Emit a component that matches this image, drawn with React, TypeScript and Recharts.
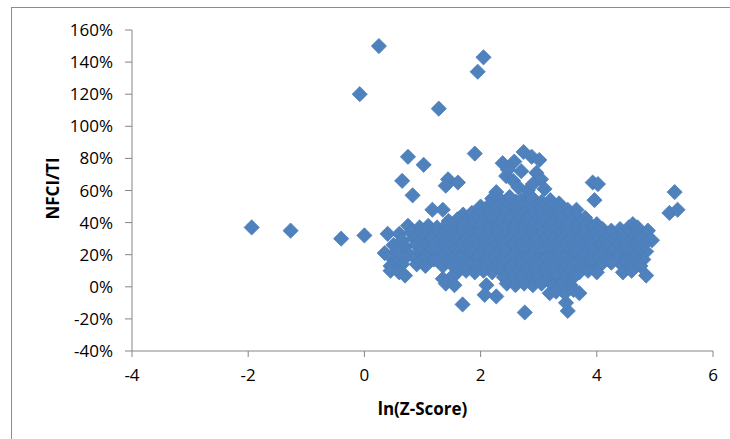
import { ScatterChart, Scatter, XAxis, YAxis, Label } from "recharts";

// ln(Z-Score) vs NFCI/TI (in %), points stored as [x, y]
const farPoints = [
  [-1.94, 37], [-1.27, 35], [-0.4, 30], [0.0, 32], [0.25, 150], [-0.08, 120],
  [2.05, 143], [1.95, 134], [1.28, 111],
];

const upperLeft = [
  [0.75, 81], [1.02, 76], [1.9, 83], [0.65, 66], [0.83, 57], [1.44, 67],
  [1.61, 65], [1.4, 63], [1.17, 48], [1.35, 48], [0.4, 33],
];

const upperArm = [
  [2.38, 77], [2.58, 78], [2.74, 84], [2.88, 81], [3.01, 79], [2.96, 71],
  [3.04, 67], [2.44, 69], [2.56, 66], [2.81, 60], [2.27, 59], [2.61, 53],
  [2.84, 57], [2.65, 62], [2.47, 73], [2.7, 72], [2.9, 64], [3.1, 61],
];

const rightPoints = [
  [3.93, 65], [4.02, 64], [3.96, 54], [5.34, 59], [5.25, 46], [5.39, 48],
  [4.85, 7], [4.62, 39], [4.79, 31], [4.88, 35],
];

const lowPoints = [
  [1.69, -11], [2.1, 1], [2.27, -6], [2.07, -5], [2.76, -16], [3.19, -4],
  [3.5, -15], [3.47, -10], [3.7, -4],
];

const coreTop = [
  [2.2, 55], [2.35, 54], [2.5, 56], [2.7, 54], [2.9, 55], [3.05, 53], [3.2, 54], [3.35, 52],
  [2.0, 50], [2.15, 51], [2.3, 50], [2.45, 49], [2.6, 50], [2.75, 51], [2.9, 49], [3.05, 50],
  [3.2, 49], [3.35, 50], [3.5, 48], [3.65, 48],
  [1.7, 45], [1.85, 46], [2.0, 45], [2.15, 46], [2.3, 45], [2.45, 46], [2.6, 45], [2.75, 46],
  [2.9, 45], [3.05, 46], [3.2, 45], [3.35, 46], [3.5, 45], [3.65, 44], [3.8, 43],
  [1.45, 41], [1.6, 42], [1.75, 41], [1.9, 42], [2.05, 41], [2.2, 42], [2.35, 41], [2.5, 42],
  [2.65, 41], [2.8, 42], [2.95, 41], [3.1, 42], [3.25, 41], [3.4, 42], [3.55, 41], [3.7, 40],
  [3.85, 40], [4.0, 39],
];

const coreMid = [
  [0.75, 38], [0.95, 37], [1.1, 38], [1.25, 37], [1.4, 38], [1.55, 37], [1.7, 38], [1.85, 37],
  [2.0, 38], [2.15, 37], [2.3, 38], [2.45, 37], [2.6, 38], [2.75, 37], [2.9, 38], [3.05, 37],
  [3.2, 38], [3.35, 37], [3.5, 38], [3.65, 37], [3.8, 38], [3.95, 37], [4.1, 36], [4.25, 35],
  [4.4, 36], [4.55, 37], [4.7, 37],
  [0.6, 33], [0.8, 34], [0.95, 33], [1.1, 34], [1.25, 33], [1.4, 34], [1.55, 33], [1.7, 34],
  [1.85, 33], [2.0, 34], [2.15, 33], [2.3, 34], [2.45, 33], [2.6, 34], [2.75, 33], [2.9, 34],
  [3.05, 33], [3.2, 34], [3.35, 33], [3.5, 34], [3.65, 33], [3.8, 34], [3.95, 33], [4.1, 32],
  [4.25, 33], [4.4, 32], [4.55, 33], [4.7, 34], [4.85, 32],
  [0.65, 29], [0.85, 30], [1.0, 29], [1.15, 30], [1.3, 29], [1.45, 30], [1.6, 29], [1.75, 30],
  [1.9, 29], [2.05, 30], [2.2, 29], [2.35, 30], [2.5, 29], [2.65, 30], [2.8, 29], [2.95, 30],
  [3.1, 29], [3.25, 30], [3.4, 29], [3.55, 30], [3.7, 29], [3.85, 30], [4.0, 29], [4.15, 30],
  [4.3, 29], [4.45, 30], [4.6, 29], [4.75, 30], [4.95, 29],
  [0.5, 26], [0.7, 25], [0.9, 26], [1.05, 25], [1.2, 26], [1.35, 25], [1.5, 26], [1.65, 25],
  [1.8, 26], [1.95, 25], [2.1, 26], [2.25, 25], [2.4, 26], [2.55, 25], [2.7, 26], [2.85, 25],
  [3.0, 26], [3.15, 25], [3.3, 26], [3.45, 25], [3.6, 26], [3.75, 25], [3.9, 26], [4.05, 25],
  [4.2, 26], [4.35, 25], [4.5, 26], [4.65, 25], [4.8, 26],
];

const coreLow = [
  [0.35, 21], [0.55, 22], [0.75, 21], [0.95, 22], [1.1, 21], [1.25, 22], [1.4, 21], [1.55, 22],
  [1.7, 21], [1.85, 22], [2.0, 21], [2.15, 22], [2.3, 21], [2.45, 22], [2.6, 21], [2.75, 22],
  [2.9, 21], [3.05, 22], [3.2, 21], [3.35, 22], [3.5, 21], [3.65, 22], [3.8, 21], [3.95, 22],
  [4.1, 21], [4.25, 22], [4.4, 21], [4.55, 22], [4.7, 21], [4.85, 22],
  [0.5, 17], [0.7, 18], [0.9, 17], [1.05, 18], [1.2, 17], [1.35, 18], [1.5, 17], [1.65, 18],
  [1.8, 17], [1.95, 18], [2.1, 17], [2.25, 18], [2.4, 17], [2.55, 18], [2.7, 17], [2.85, 18],
  [3.0, 17], [3.15, 18], [3.3, 17], [3.45, 18], [3.6, 17], [3.75, 18], [3.9, 17], [4.05, 18],
  [4.2, 17], [4.35, 18], [4.5, 17], [4.65, 18], [4.8, 17],
  [0.45, 13], [0.65, 14], [0.9, 14], [1.05, 13], [1.35, 13], [1.5, 14], [1.65, 13], [1.8, 14],
  [1.95, 13], [2.1, 14], [2.25, 13], [2.4, 14], [2.55, 13], [2.7, 14], [2.85, 13], [3.0, 14],
  [3.15, 13], [3.3, 14], [3.45, 13], [3.6, 14], [3.75, 13], [3.9, 14], [4.05, 13], [4.25, 15],
  [4.45, 13], [4.6, 14], [4.75, 13],
  [0.45, 10], [0.6, 9], [1.6, 9], [1.75, 10], [1.9, 9], [2.05, 10], [2.2, 9], [2.35, 10],
  [2.5, 9], [2.65, 10], [2.8, 9], [2.95, 10], [3.1, 9], [3.25, 10], [3.4, 9], [3.55, 10],
  [3.7, 9], [3.85, 10], [4.0, 9], [4.45, 9], [4.6, 10],
  [0.7, 7], [1.35, 5], [1.5, 6], [2.4, 6], [2.55, 5], [2.7, 6], [2.85, 5], [3.0, 6],
  [3.15, 5], [3.3, 6], [3.45, 5], [3.6, 6],
  [1.4, 2], [1.55, 1], [2.45, 2], [2.6, 1], [2.75, 2], [2.9, 1], [3.05, 2], [3.25, 1],
  [3.4, 2], [3.55, 1],
  [3.3, -3], [3.45, -4], [3.6, -2],
];

const xTicks = [-4, -2, 0, 2, 4, 6];
const yTicks = [-40, -20, 0, 20, 40, 60, 80, 100, 120, 140, 160];

const points = [
  ...farPoints, ...upperLeft, ...upperArm, ...rightPoints, ...lowPoints,
  ...coreTop, ...coreMid, ...coreLow,
].map(([x, y]) => ({ x, y }));

const FONT = '"Open Sans", "Liberation Sans", sans-serif';
const AXIS = "#868686";

const Diamond = (props: any) => {
  const { cx, cy } = props;
  const r = 7.6;
  return (
    <path
      d={`M${cx},${cy - r}L${cx + r},${cy}L${cx},${cy + r}L${cx - r},${cy}Z`}
      fill="#4F81BD"
      stroke="#4A7EBB"
      strokeWidth={0.8}
    />
  );
};

export default function App() {
  return (
    <div style={{ position: "absolute", left: 0, top: 0, width: 730, height: 439, overflow: "hidden", background: "#fff" }}>
      <div style={{ position: "absolute", left: 11, top: 7, width: 760, height: 460, border: "1px solid #8c8c8c" }} />
      <ScatterChart
        width={730}
        height={439}
        margin={{ top: 30, right: 17, bottom: 0, left: 0 }}
        style={{ position: "absolute", left: 0, top: 0 }}
      >
        <XAxis
          type="number"
          dataKey="x"
          domain={[-4, 6]}
          ticks={xTicks}
          interval={0}
          height={88}
          stroke={AXIS}
          tickSize={6}
          tickMargin={12}
          tick={{ fill: "#000", fontSize: 17, fontFamily: FONT }}
        >
          <Label
            content={({ viewBox }: any) => (
              <text
                x={viewBox.x + viewBox.width / 2}
                y={viewBox.y + 64}
                textAnchor="middle"
                fontFamily={FONT}
                fontSize={17}
                fontWeight="bold"
                fill="#000"
              >
                ln(Z-Score)
              </text>
            )}
          />
        </XAxis>
        <YAxis
          type="number"
          dataKey="y"
          domain={[-40, 160]}
          ticks={yTicks}
          interval={0}
          width={132}
          stroke={AXIS}
          tickSize={7}
          tickMargin={12}
          tickFormatter={(v: number) => `${v}%`}
          tick={{ fill: "#000", fontSize: 17, fontFamily: FONT }}
        >
          <Label
            content={({ viewBox }: any) => {
              const x = viewBox.x + 52;
              const y = viewBox.y + viewBox.height / 2 - 2;
              return (
                <text
                  x={x}
                  y={y}
                  transform={`rotate(-90, ${x}, ${y})`}
                  textAnchor="middle"
                  dominantBaseline="central"
                  fontFamily={FONT}
                  fontSize={17}
                  fontWeight="bold"
                  fill="#000"
                >
                  NFCI/TI
                </text>
              );
            }}
          />
        </YAxis>
        <Scatter data={points} shape={Diamond} isAnimationActive={false} />
      </ScatterChart>
    </div>
  );
}
